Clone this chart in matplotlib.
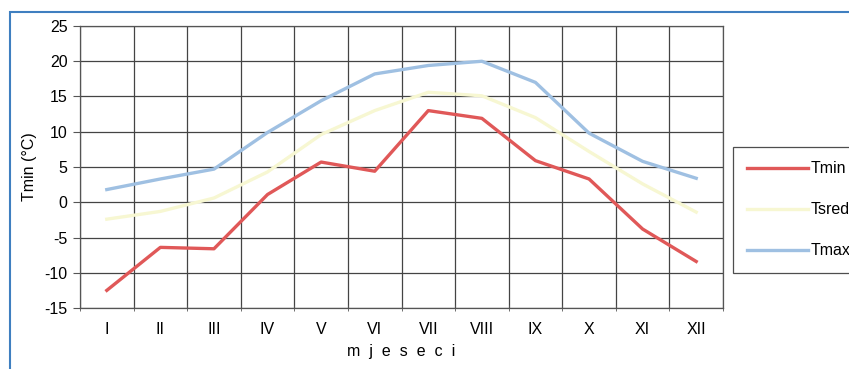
import matplotlib.pyplot as plt
from matplotlib.patches import Rectangle
import numpy as np

plt.rcParams['font.family'] = ['Liberation Sans', 'DejaVu Sans']
plt.rcParams['axes.unicode_minus'] = False

# mjeseci i temperature (ocitano sa grafikona)
mjeseci = ['I', 'II', 'III', 'IV', 'V', 'VI', 'VII', 'VIII', 'IX', 'X', 'XI', 'XII']
tmin = [-12.5, -6.4, -6.6, 1.1, 5.7, 4.4, 13.0, 11.9, 5.9, 3.3, -3.8, -8.4]
tsred = [-2.4, -1.3, 0.6, 4.3, 9.6, 13.0, 15.6, 15.1, 12.0, 7.2, 2.6, -1.4]
tmax = [1.8, 3.3, 4.7, 9.9, 14.4, 18.2, 19.4, 20.0, 17.0, 9.8, 5.8, 3.4]

fig = plt.figure(figsize=(8.49, 3.69), dpi=100)

# plavi okvir oko grafikona
fig.patches.append(Rectangle((10 / 849, -0.05), 1.0, 1 - 12 / 369 + 0.05,
                             transform=fig.transFigure, fill=False,
                             edgecolor='#3f7fc0', linewidth=1.5))

ax = fig.add_axes([80 / 849, 1 - 308 / 369, 643 / 849, 282 / 369])
x = np.arange(len(mjeseci))

l1, = ax.plot(x, tmin, color='#e05858', lw=2.4, label='Tmin')
l2, = ax.plot(x, tsred, color='#f7f7d2', lw=2.4, label='Tsred')
l3, = ax.plot(x, tmax, color='#9fc0e2', lw=2.4, label='Tmax')

ax.set_xlim(-0.5, len(mjeseci) - 0.5)
ax.set_ylim(-15, 25)
ax.set_yticks(np.arange(-15, 26, 5))
ax.set_xticks(x)
ax.set_xticklabels(mjeseci, fontsize=11.5)
ax.set_xticks(np.arange(-0.5, len(mjeseci), 1), minor=True)
ax.tick_params(axis='x', which='major', length=0, pad=10)
ax.tick_params(axis='x', which='minor', length=4, direction='inout', color='#555555')
ax.tick_params(axis='y', labelsize=11.5, length=5, direction='out', color='#555555', pad=4)
ax.grid(True, axis='y', color='#444444', lw=0.9)
ax.grid(True, axis='x', which='minor', color='#444444', lw=0.9)
ax.set_axisbelow(True)
for s in ax.spines.values():
    s.set_color('#555555')
    s.set_linewidth(0.9)

ax.set_ylabel('Tmin (°C)', fontsize=11.5, labelpad=5)
ax.set_xlabel('m  j  e  s  e  c  i', fontsize=11.5, labelpad=5)

leg = fig.legend(handles=[l1, l2, l3], loc='upper left',
                 bbox_to_anchor=(733 / 849, 1 - 147 / 369),
                 fontsize=11.5, frameon=True, fancybox=False,
                 handlelength=3.8, labelspacing=1.62, borderpad=0.9,
                 handletextpad=0.15, borderaxespad=0)
leg.get_frame().set_edgecolor('#222222')
leg.get_frame().set_linewidth(0.9)

fig.savefig('out.png', dpi=100)
